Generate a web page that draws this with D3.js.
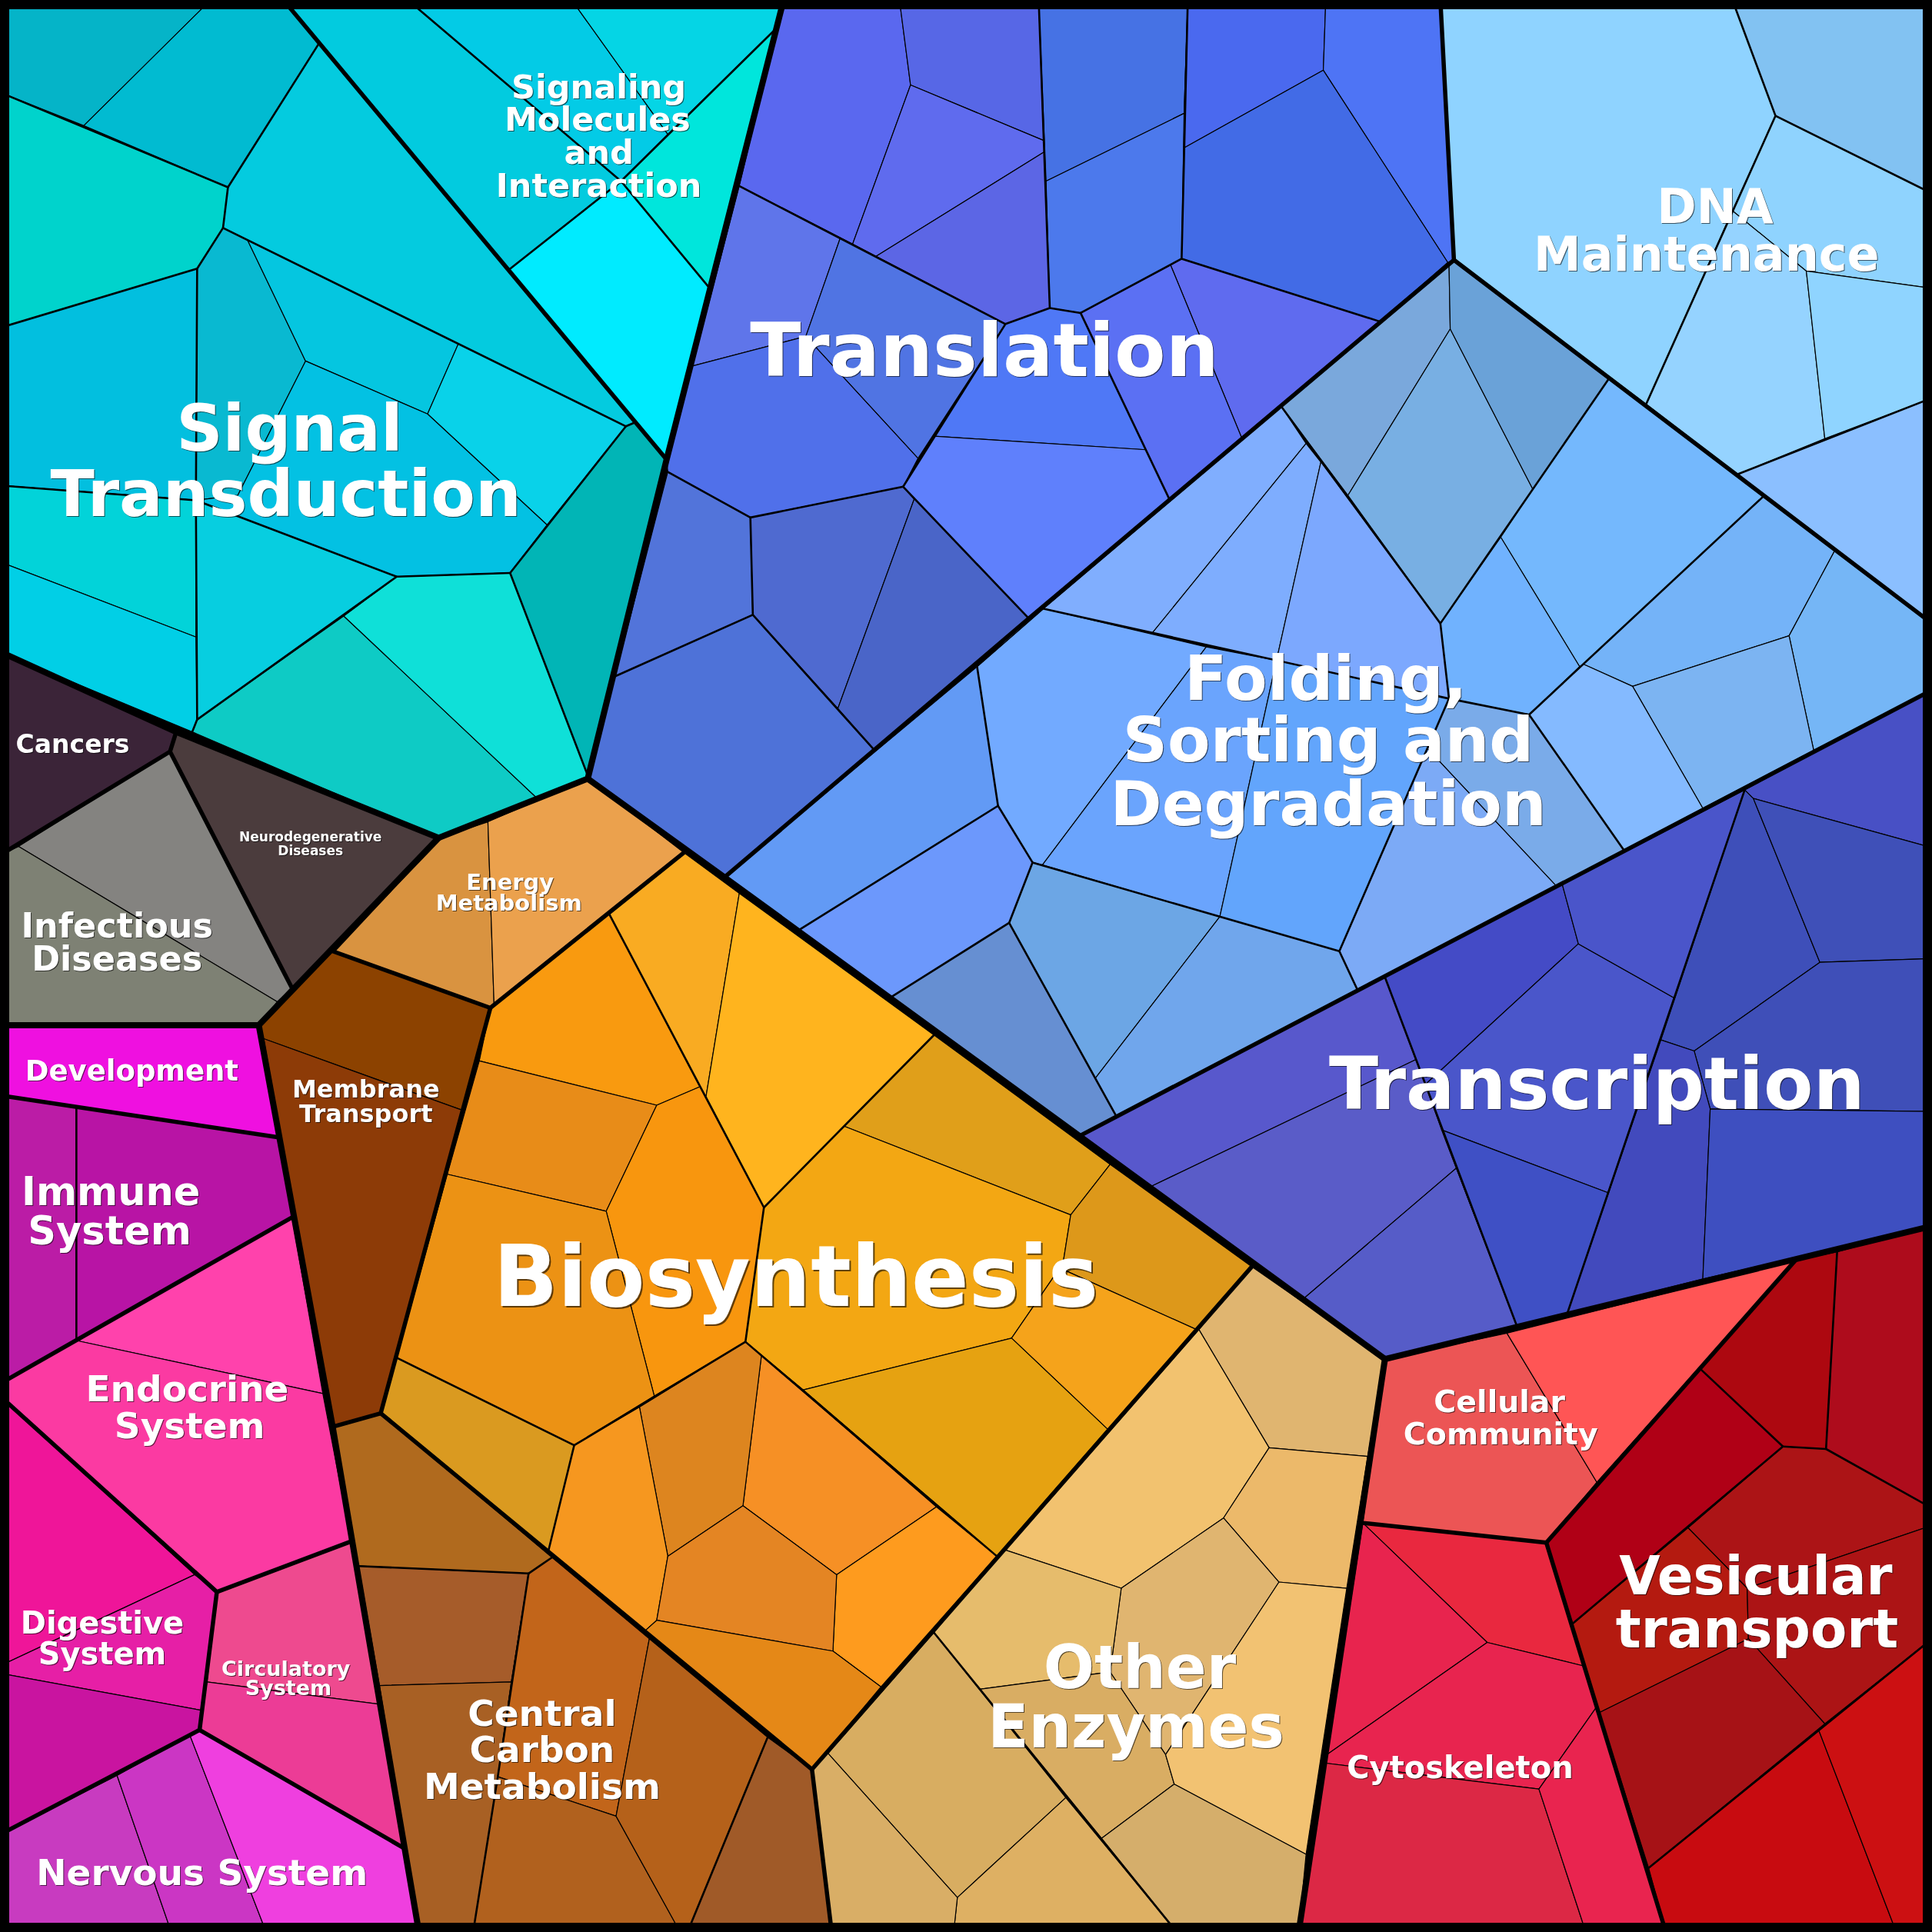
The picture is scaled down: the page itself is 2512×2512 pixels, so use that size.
<!DOCTYPE html>
<html>
<head>
<meta charset="utf-8">
<script src="https://cdn.jsdelivr.net/npm/d3@7"></script>
<style>
  html, body { margin: 0; padding: 0; background: #000; }
  svg { display: block; }
  text { font-family: "DejaVu Sans", sans-serif; font-weight: bold; text-anchor: middle; }
</style>
</head>
<body>
<svg id="chart" width="2512" height="2512"></svg>
<script>

const signalCells = [
  [[0,0],[171,0],[68,102],[0,75]],
  [[171,0],[230,0],[259,35],[185,152],[68,102]],
  [[0,75],[185,152],[181,185],[160,218],[0,266]],
  [[259,35],[515,343],[508,346],[181,185],[185,152]],
  [[181,185],[201,195],[248,293],[193,402],[159,406],[160,218]],
  [[201,195],[372,279],[347,336],[248,293]],
  [[372,279],[508,346],[444,426],[347,336]],
  [[248,293],[347,336],[444,426],[414,465],[322,468],[159,406],[193,402]],
  [[0,266],[160,218],[159,406],[0,394]],
  [[0,394],[159,406],[159,517],[0,456]],
  [[0,456],[159,517],[160,584],[156,594],[0,529]],
  [[159,406],[322,468],[279,500],[160,584]],
  [[279,500],[435,647],[356,680],[156,594],[160,584]],
  [[279,500],[322,468],[414,465],[478,632],[435,647]],
  [[508,346],[515,343],[541,373],[478,632],[414,465]]
];
const signalColors = ['#05b4c8','#01bbd1','#00d3cc','#04cbdf','#09b9d1','#05c6e0','#09d2e9','#03c1e3',
  '#02bfdf','#02d3d9','#01cfe6','#07cee0','#0ecbc5','#0fe0d8','#01b5b6'];

const moleculeCells = [
  [[230,0],[331,0],[504,147],[413,219]],
  [[331,0],[464,0],[542,109],[504,147]],
  [[464,0],[636,0],[629,24],[542,109]],
  [[629,24],[576,234],[504,147]],
  [[413,219],[504,147],[576,234],[541,373]]
];
const moleculeColors = ['#02cbdf','#03cbe6','#05d5e5','#00e6dc','#00ebff'];

const translationCells = [
  [[636,0],[730,0],[739,69],[692,198],[600,151]],
  [[730,0],[843,0],[847,114],[739,69]],
  [[739,69],[847,114],[848,123],[711,208],[692,198]],
  [[711,208],[848,123],[852,250],[816,263]],
  [[843,0],[964,0],[961,92],[849,147]],
  [[849,147],[961,92],[959,210],[877,254],[852,250]],
  [[964,0],[1076,0],[1074,57],[961,120],[961,92]],
  [[1076,0],[1169,0],[1180,211],[1175,213],[1074,57]],
  [[961,120],[1074,57],[1175,213],[1120,261],[959,210]],
  [[950,215],[959,210],[1120,261],[1008,356]],
  [[877,254],[950,215],[1008,356],[949,405]],
  [[816,263],[852,250],[877,254],[930,365],[758,354]],
  [[758,354],[930,365],[949,405],[835,502],[733,395]],
  [[600,151],[682,193],[654,273],[562,297]],
  [[682,193],[816,263],[745,372],[654,273]],
  [[562,297],[654,273],[745,372],[733,395],[609,420],[542,383],[541,373]],
  [[542,383],[609,420],[611,499],[499,549]],
  [[609,420],[733,395],[742,405],[680,575],[611,499]],
  [[733,395],[835,502],[709,608],[680,575],[742,405]],
  [[499,549],[611,499],[709,608],[588,712],[477,632]]
];
const translationColors = ['#5a68ef','#5767e6','#5f6bee','#5c66e5','#4672e4','#4c79ec','#4a69ef','#4e74f5','#426be6',
  '#5f6bef','#5b70f3','#4f78f6','#5f80fc','#5f75ea','#5074e3','#5070ea','#5274da','#4f6ad0','#4a65c8','#4e72d8'];

const dnaCells = [
  [[1169,0],[1406,0],[1441,94],[1336,328],[1180,211]],
  [[1406,0],[1568,0],[1568,157],[1441,94]],
  [[1441,94],[1568,157],[1568,234],[1466,220],[1406,171]],
  [[1406,171],[1466,220],[1481,356],[1410,385],[1336,328]],
  [[1466,220],[1568,234],[1568,323],[1481,356]],
  [[1410,385],[1568,323],[1568,506]]
];
const dnaColors = ['#8fd3ff','#82c2f2','#8fd3fe','#95d3ff','#8fd4ff','#8bbfff'];

const foldingCells = [
  [[1040,330],[1176,213],[1177,267],[1094,402]],
  [[1177,267],[1244,397],[1169,506],[1094,402]],
  [[1180,211],[1306,307],[1244,397],[1177,267],[1176,213]],
  [[1306,307],[1431,403],[1285,539],[1282,541],[1218,436],[1244,397]],
  [[1169,506],[1218,436],[1282,541],[1241,580],[1176,567]],
  [[1285,539],[1431,403],[1489,447],[1452,516],[1325,557]],
  [[1489,447],[1568,506],[1568,560],[1472,609],[1452,516]],
  [[1325,557],[1452,516],[1472,609],[1382,656]],
  [[1285,539],[1325,557],[1382,656],[1318,690],[1241,580]],
  [[1176,567],[1241,580],[1318,690],[1263,719],[1158,607]],
  [[1158,607],[1263,719],[1102,804],[1087,772]],
  [[1040,330],[1060,360],[935,514],[847,494]],
  [[1060,360],[1072,375],[1036,536],[935,514]],
  [[1072,375],[1169,506],[1176,567],[1036,536]],
  [[847,494],[979,525],[846,702],[838,700],[810,654],[793,541]],
  [[979,525],[1036,536],[990,744],[846,702]],
  [[1036,536],[1176,567],[1087,772],[990,744]],
  [[793,541],[810,654],[648,755],[588,712]],
  [[810,654],[838,700],[819,749],[722,810],[648,755]],
  [[722,810],[819,749],[906,906],[876,922]],
  [[838,700],[990,744],[889,875],[819,749]],
  [[990,744],[1087,772],[1102,804],[906,906],[889,875]],
  [[847,494],[835,502],[793,541]]
];
const foldingColors = ['#7aa8dc','#78afe3','#6aa2d8','#74b8fd','#70b2fe','#74b3f8','#75b6f6','#7cb4f2','#84baff','#7aabe9','#7caaf6',
  '#80aefe','#7eadfe','#7ca8fe','#72aaff','#6aa4fd','#62a5fc','#629af5','#6c98fc','#668fd2','#6ca6e5','#70a6ec','#72aaff'];

const transcriptionCells = [
  [[1124,793],[1149,860],[934,963],[877,922]],
  [[934,963],[1149,860],[1182,948],[1058,1054]],
  [[1058,1054],[1182,948],[1231,1076],[1124,1103]],
  [[1124,793],[1268,718],[1281,766],[1157,880]],
  [[1157,880],[1281,766],[1359,810],[1305,968],[1170,917]],
  [[1268,718],[1416,641],[1359,810],[1281,766]],
  [[1170,917],[1305,968],[1272,1066],[1231,1076]],
  [[1416,641],[1423,648],[1477,781],[1375,853],[1348,844]],
  [[1416,641],[1568,560],[1568,688],[1423,648]],
  [[1423,648],[1568,688],[1568,778],[1477,781]],
  [[1477,781],[1568,778],[1568,902],[1388,900],[1375,853]],
  [[1348,844],[1375,853],[1388,900],[1382,1038],[1272,1066]],
  [[1388,900],[1568,902],[1568,995],[1382,1038]]
];
const transcriptionColors = ['#5858cc','#5a5cc8','#565cc8','#444bc6','#4a56ca','#4a55ca','#3f50c5','#3e4fb9','#4850c5','#3f50b8','#3f4fb8','#424abd','#3e4fc0'];

const biosynthesisCells = [
  [[555,692],[600,725],[573,890],[568,882],[494,741]],
  [[600,725],[758,840],[620,980],[573,890]],
  [[494,741],[568,882],[533,897],[389,861],[398,818]],
  [[389,861],[533,897],[492,983],[363,953]],
  [[533,897],[568,882],[620,980],[605,1089],[531,1133],[492,983]],
  [[363,953],[492,983],[531,1133],[466,1173],[322,1102]],
  [[322,1102],[466,1173],[445,1259],[309,1147]],
  [[685,914],[758,840],[901,945],[869,986]],
  [[685,914],[869,986],[862,1030],[856,1035],[821,1086],[652,1128],[605,1089],[620,980]],
  [[901,945],[1016,1028],[971,1079],[862,1030],[869,986]],
  [[862,1030],[971,1079],[899,1160],[821,1086],[856,1035]],
  [[652,1128],[821,1086],[899,1160],[809,1263]],
  [[618,1100],[760,1223],[679,1278],[603,1222]],
  [[760,1223],[809,1263],[715,1369],[676,1340],[679,1278]],
  [[519,1142],[605,1089],[618,1100],[603,1222],[542,1263]],
  [[466,1173],[519,1142],[542,1263],[533,1315],[523,1324],[445,1259]],
  [[603,1222],[679,1278],[676,1340],[533,1315],[542,1263]],
  [[533,1315],[676,1340],[715,1369],[659,1436],[523,1324]]
];
const biosynthesisColors = ['#f9ab22','#ffb41e','#f99a0f','#e88c18','#f8960e','#ec9214','#da9a20','#e09f1a','#f3a713',
  '#dd981a','#f5a31b','#e6a211','#f69025','#fe9b1e','#dd851f','#f6971f','#e48523','#e58817'];

const energyCells = [
  [[356,680],[396,667],[401,816],[398,818],[270,772]],
  [[396,667],[477,632],[555,692],[401,816]]
];
const energyColors = ['#d99340','#eba14d'];

const membraneCells = [
  [[210,832],[270,772],[398,818],[375,901],[214,843]],
  [[214,843],[375,901],[309,1147],[270,1158]]
];
const membraneColors = ['#8c4200','#8d3b07'];

const diseaseCells = [
  [[0,529],[143,594],[138,610],[0,694]],
  [[143,594],[356,680],[237,802],[138,610]],
  [[138,610],[237,802],[225,813],[15,687]],
  [[15,687],[225,813],[210,832],[0,832],[0,694]]
];
const diseaseColors = ['#3b2438','#4b3c3d','#848380','#7e8174'];

const organismCells = [
  [[0,832],[210,832],[226,923],[0,889]],
  [[0,889],[62,898],[62,1088],[0,1123]],
  [[62,898],[226,923],[237,988],[62,1088]],
  [[62,1088],[237,988],[262,1131]],
  [[0,1123],[62,1088],[262,1131],[285,1251],[176,1292],[0,1133]],
  [[0,1133],[158,1278],[0,1352]],
  [[0,1352],[158,1278],[176,1292],[163,1388],[0,1358]],
  [[0,1358],[163,1388],[162,1404],[0,1489]],
  [[176,1292],[285,1251],[307,1383],[168,1365]],
  [[168,1365],[307,1383],[328,1500],[162,1404]],
  [[0,1489],[95,1441],[139,1568],[0,1568]],
  [[95,1441],[154,1408],[216,1568],[139,1568]],
  [[154,1408],[162,1404],[328,1500],[340,1568],[216,1568]]
];
const organismColors = ['#ef10e0','#bb1ca6','#b814a5','#ff42ac','#fb3aa2','#ef1599','#e61fa6','#c914a0','#ee4a8f','#ec3c96','#c83bc0','#cb36c4','#ef3fdf'];

const carbonCells = [
  [[270,1158],[309,1147],[448,1264],[429,1277],[291,1271]],
  [[291,1271],[429,1277],[415,1365],[308,1368]],
  [[308,1368],[415,1365],[404,1442],[384,1568],[340,1568]],
  [[429,1277],[448,1264],[527,1330],[500,1474],[404,1442],[415,1365]],
  [[404,1442],[500,1474],[552,1568],[384,1568]],
  [[527,1330],[623,1410],[558,1568],[552,1568],[500,1474]],
  [[623,1410],[659,1436],[675,1568],[558,1568]]
];
const carbonColors = ['#b06a1e','#a65c2a','#a86024','#c2651a','#b1611e','#b5611a','#a05a28'];

const enzymeCells = [
  [[1016,1028],[1124,1103],[1110,1182],[1030,1175],[973,1079]],
  [[973,1079],[1030,1175],[993,1232],[910,1289],[816,1258]],
  [[1030,1175],[1110,1182],[1093,1289],[1038,1284],[993,1232]],
  [[910,1289],[993,1232],[1038,1284],[946,1424],[901,1357]],
  [[809,1263],[816,1258],[910,1289],[901,1357],[795,1371],[758,1325]],
  [[795,1371],[901,1357],[946,1424],[953,1448],[894,1492]],
  [[946,1424],[1038,1284],[1093,1289],[1060,1505],[953,1448]],
  [[953,1448],[1060,1505],[1054,1568],[955,1568],[894,1492]],
  [[758,1325],[865,1459],[777,1540],[672,1423]],
  [[865,1459],[955,1568],[774,1568],[777,1540]],
  [[659,1436],[672,1423],[777,1540],[774,1568],[675,1568]]
];
const enzymeColors = ['#e0b570','#f2c26f','#ecb96a','#e0b570','#e6bc6c','#d9ad63','#f2c272','#d5ae6b','#d8ad61','#deb063','#d9ae66'];

const cellularCells = [
  [[1124,1103],[1223,1082],[1296,1203],[1255,1252],[1106,1236]],
  [[1223,1082],[1457,1023],[1296,1203]],
  [[1106,1236],[1255,1252],[1285,1352],[1207,1333]],
  [[1106,1236],[1207,1333],[1077,1424]],
  [[1077,1424],[1207,1333],[1285,1352],[1296,1385],[1249,1452],[1076,1431]],
  [[1076,1431],[1249,1452],[1287,1568],[1054,1568]],
  [[1296,1385],[1352,1568],[1287,1568],[1249,1452]]
];
const cellularColors = ['#ec5555','#ff5555','#e9283f','#e8244e','#e8244f','#dc2845','#e9244f'];

const vesicleCells = [
  [[1457,1023],[1491,1016],[1482,1176],[1447,1174],[1380,1111]],
  [[1491,1016],[1568,995],[1568,1224],[1482,1176]],
  [[1380,1111],[1447,1174],[1276,1318],[1255,1252]],
  [[1447,1174],[1482,1176],[1568,1224],[1568,1238],[1418,1289],[1370,1240]],
  [[1370,1240],[1418,1289],[1419,1330],[1298,1390],[1276,1318]],
  [[1418,1289],[1568,1238],[1568,1330],[1481,1399],[1419,1330]],
  [[1298,1390],[1419,1330],[1481,1399],[1338,1516]],
  [[1338,1516],[1476,1404],[1539,1568],[1352,1568]],
  [[1476,1404],[1568,1330],[1568,1568],[1539,1568]]
];
const vesicleColors = ['#ad0810','#ae0c1c','#b00016','#ac1416','#b41a10','#ac1415','#a61216','#c80b10','#cc1012'];

// second level borders inside a category
const branchBorders = [
  [[0,75],[185,152],[259,35]],
  [[185,152],[181,185],[160,218],[0,266]],
  [[181,185],[508,346],[515,343]],
  [[508,346],[414,465],[478,632]],
  [[160,218],[159,406],[160,584],[156,594]],
  [[0,394],[159,406],[322,468],[414,465]],
  [[322,468],[160,584]],
  [[331,0],[504,147],[576,234]],
  [[629,24],[504,147],[413,219]],
  [[843,0],[852,250],[816,263],[733,395]],
  [[600,151],[816,263]],
  [[964,0],[959,210],[1120,261]],
  [[852,250],[877,254],[959,210]],
  [[877,254],[949,405]],
  [[542,383],[609,420],[733,395],[835,502]],
  [[609,420],[611,499],[709,608]],
  [[611,499],[499,549]],
  [[1406,0],[1441,94],[1568,157]],
  [[1441,94],[1336,328]],
  [[1410,385],[1568,323]],
  [[1040,330],[1169,506],[1306,307]],
  [[1169,506],[1176,567],[1087,772],[1102,804]],
  [[847,494],[1176,567],[1241,580],[1318,690]],
  [[1431,403],[1241,580]],
  [[793,541],[810,654],[838,700],[819,749],[906,906]],
  [[810,654],[648,755]],
  [[819,749],[722,810]],
  [[838,700],[1087,772]],
  [[1124,793],[1231,1076]],
  [[1416,641],[1272,1066]],
  [[494,741],[620,980],[758,840]],
  [[620,980],[605,1089],[466,1173],[322,1102]],
  [[466,1173],[445,1259]],
  [[605,1089],[809,1263]],
  [[291,1271],[429,1277],[448,1264]],
  [[429,1277],[404,1442],[384,1568]],
  [[623,1410],[558,1568]],
  [[758,1325],[955,1568]],
  [[1380,1111],[1447,1174],[1276,1318]],
  [[1447,1174],[1482,1176],[1491,1016]],
  [[1482,1176],[1568,1224]],
  [[1338,1516],[1568,1330]],
  [[62,898],[62,1088]]
];

// borders between categories
const categoryBorders = [
  [[230,0],[541,373]],
  [[1169,0],[1180,211],[835,502],[588,712]],
  [[1180,211],[1568,506]],
  [[876,922],[1568,560]],
  [[555,692],[398,818],[270,772],[356,680]],
  [[398,818],[309,1147],[270,1158]],
  [[309,1147],[659,1436],[675,1568]],
  [[1016,1028],[659,1436]],
  [[0,694],[138,610],[143,594]],
  [[138,610],[237,802]],
  [[0,889],[226,923]],
  [[0,1123],[237,988]],
  [[0,1133],[176,1292],[285,1251]],
  [[176,1292],[162,1404],[0,1489]],
  [[162,1404],[328,1500]],
  [[1106,1236],[1255,1252],[1457,1023]],
  [[1255,1252],[1352,1568]]
];

// borders between the main divisions
const divisionBorders = [
  [[636,0],[541,373],[477,632],[356,680],[143,594],[0,529]],
  [[477,632],[588,712],[876,922],[1124,1103],[1568,995]],
  [[1124,1103],[1054,1568]],
  [[356,680],[210,832],[270,1158],[340,1568]],
  [[210,832],[0,832]]
];

const labelTexts = ['Biosynthesis','Translation','Transcription','Signal','Transduction','DNA','Maintenance',
  'Folding,','Sorting and','Degradation','Other','Enzymes','Vesicular','transport','Central','Carbon','Metabolism',
  'Signaling','Molecules','and','Interaction','Immune','System','Endocrine','System','Digestive','System',
  'Nervous System','Development','Infectious','Diseases','Cancers','Neurodegenerative','Diseases','Energy','Metabolism',
  'Membrane','Transport','Circulatory','System','Cellular','Community','Cytoskeleton'];
const labelX = [646,799,1296,235,232,1392,1385,1076,1078,1078,925,922,1425,1426,440,440,440,486,485,486,486,90,89,152,154,83,83,
  164,107,95,95,59,252,252,414,413,297,297,232,234,1217,1218,1185];
const labelY = [1060,305,900,366,419,181,220,568,618,670,1370,1418,1294,1337,1401,1430,1460,80,106,133,160,978,1010,1137,1167,1326,1351,
  1530,877,761,788,611,683,694,722,739,891,911,1360,1376,1146,1172,1443];
const labelSizes = [110,97,94,84,84,62,62,81,81,81,78,78,69,69,47,47,47,43,43,43,43,51,51,47,47,40,40,
  47,37,44.5,44.5,33,17,17,29,29,32,32,27,27,39.5,39.5,40];

const cellGroups = [
  [signalCells, signalColors], [moleculeCells, moleculeColors], [translationCells, translationColors],
  [dnaCells, dnaColors], [foldingCells, foldingColors], [transcriptionCells, transcriptionColors],
  [biosynthesisCells, biosynthesisColors], [energyCells, energyColors], [membraneCells, membraneColors],
  [diseaseCells, diseaseColors], [organismCells, organismColors], [carbonCells, carbonColors],
  [enzymeCells, enzymeColors], [cellularCells, cellularColors], [vesicleCells, vesicleColors]
];

const size = 2512;
const svg = d3.select('#chart');
const x = d3.scaleLinear().domain([0, 1568]).range([0, size]);
const y = d3.scaleLinear().domain([0, 1568]).range([0, size]);
const line = d3.line().x(d => x(d[0])).y(d => y(d[1]));

// Leaf cells
const cells = cellGroups.flatMap(([shapes, colors]) => shapes.map((s, i) => ({ shape: s, color: colors[i] })));
svg.append('g')
  .selectAll('path')
  .data(cells)
  .enter()
  .append('path')
  .attr('d', d => line(d.shape) + 'Z')
  .attr('fill', d => d.color)
  .attr('stroke', '#000')
  .attr('stroke-width', 1.2)
  .attr('stroke-linejoin', 'round');

function drawBorders(borders, width) {
  svg.append('g')
    .selectAll('path')
    .data(borders)
    .enter()
    .append('path')
    .attr('d', line)
    .attr('fill', 'none')
    .attr('stroke', '#000')
    .attr('stroke-width', width)
    .attr('stroke-linejoin', 'round')
    .attr('stroke-linecap', 'round');
}

drawBorders(branchBorders, 2.6);
drawBorders(categoryBorders, 5.5);
drawBorders(divisionBorders, 8);

// Frame
svg.append('rect')
  .attr('x', 6).attr('y', 6)
  .attr('width', size - 12).attr('height', size - 12)
  .attr('fill', 'none').attr('stroke', '#000').attr('stroke-width', 12);

// Labels with a small dark edge on the lower right
const labels = labelTexts.map((t, i) => ({ text: t, x: labelX[i], y: labelY[i], size: labelSizes[i] }));
svg.append('g')
  .selectAll('text')
  .data(labels)
  .enter()
  .append('text')
  .attr('x', d => x(d.x))
  .attr('y', d => y(d.y))
  .attr('font-size', d => d.size)
  .attr('fill', '#fff')
  .style('filter', d => {
    const off = Math.max(1, d.size / 55);
    return `drop-shadow(${off}px ${off}px 0 rgba(0,0,0,0.6))`;
  })
  .text(d => d.text);
</script>
</body>
</html>
